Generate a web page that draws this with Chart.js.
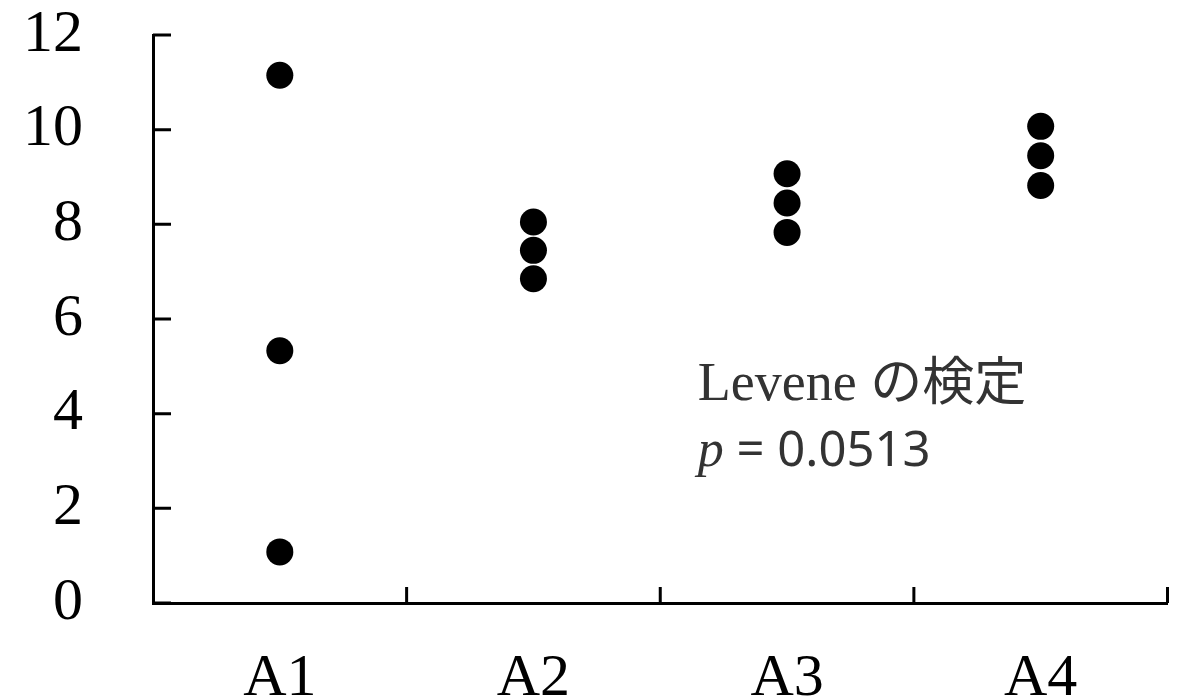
<!DOCTYPE html>
<html lang="ja">
<head>
  <meta charset="UTF-8">
  <title>Levene の検定</title>
  <script src="https://cdn.jsdelivr.net/npm/chart.js"></script>
  <style>
    body {
      margin: 0;
      padding: 0;
      background-color: #fff;
    }
    #chart-container {
      width: 1181px;
      height: 699px;
    }
  </style>
</head>
<body>
  <div id="chart-container">
    <canvas id="dotChart" width="1181" height="699"></canvas>
  </div>

  <script>
    // groups and their measured values
    const groups = ['A1', 'A2', 'A3', 'A4'];
    const valuesA1 = [11.15, 5.33, 1.08];
    const valuesA2 = [8.05, 7.45, 6.85];
    const valuesA3 = [9.07, 8.45, 7.83];
    const valuesA4 = [10.07, 9.45, 8.82];
    const yTicks = [0, 2, 4, 6, 8, 10, 12];

    const testLabel = 'Levene';
    const testLabelJa = 'の検定';
    const pValue = '0.0513';

    const allValues = [valuesA1, valuesA2, valuesA3, valuesA4];
    const points = [];
    groups.forEach((g, i) => {
      allValues[i].forEach(v => points.push({ x: g, y: v }));
    });

    const serif = '"Liberation Serif", "DejaVu Serif", serif';

    // inward tick marks on both axes
    const innerTicks = {
      id: 'innerTicks',
      afterDraw(chart) {
        const c = chart.ctx;
        const xs = chart.scales.x;
        const ys = chart.scales.y;
        c.save();
        c.strokeStyle = '#000';
        c.lineWidth = 3;
        c.beginPath();
        yTicks.forEach(t => {
          const py = ys.getPixelForValue(t);
          c.moveTo(xs.left, py);
          c.lineTo(xs.left + 18, py);
        });
        const step = xs.getPixelForValue(1) - xs.getPixelForValue(0);
        for (let i = 1; i <= groups.length; i++) {
          const px = xs.getPixelForValue(i) - step / 2;
          c.moveTo(px, ys.bottom);
          c.lineTo(px, ys.bottom - 16);
        }
        c.stroke();
        c.restore();
      }
    };

    // test result written inside the plot
    const testNote = {
      id: 'testNote',
      afterDraw(chart) {
        const c = chart.ctx;
        const xs = chart.scales.x;
        const ys = chart.scales.y;
        const x0 = xs.getPixelForValue(1.648);
        const y1 = ys.getPixelForValue(4.29);
        const y2 = ys.getPixelForValue(2.89);
        c.save();
        c.fillStyle = '#333';
        c.textBaseline = 'alphabetic';
        c.textAlign = 'left';

        c.font = '54px ' + serif;
        c.fillText(testLabel, x0, y1);
        let x = x0 + c.measureText(testLabel + ' ').width;
        c.font = '52px "Noto Sans CJK JP"';
        c.fillText(testLabelJa, x, y1);

        c.font = 'italic 52px ' + serif;
        c.fillText('p', x0, y2);
        x = x0 + c.measureText('p').width;
        c.font = '49px "Noto Sans", "Open Sans", sans-serif';
        c.fillText(' = ' + pValue, x, y2);
        c.restore();
      }
    };

    const ctx = document.getElementById('dotChart').getContext('2d');
    const dotChart = new Chart(ctx, {
      type: 'line',
      data: {
        labels: groups,
        datasets: [{
          data: points,
          showLine: false,
          pointRadius: 13.5,
          pointHoverRadius: 13.5,
          pointBackgroundColor: '#000',
          pointBorderWidth: 0
        }]
      },
      options: {
        responsive: false,
        animation: false,
        layout: {
          padding: { top: 35, right: 13, left: 0, bottom: 0 }
        },
        plugins: {
          legend: { display: false },
          tooltip: { enabled: false }
        },
        scales: {
          x: {
            type: 'category',
            offset: true,
            grid: { display: false, drawTicks: false },
            border: { display: true, color: '#000', width: 3 },
            ticks: {
              color: '#000',
              font: { family: serif, size: 60 },
              padding: 40
            },
            afterFit(scale) {
              scale.height = 96;
              scale.paddingLeft = 0;
              scale.paddingRight = 0;
            }
          },
          y: {
            min: 0,
            max: 12,
            grid: { display: false, drawTicks: false },
            border: { display: true, color: '#000', width: 3 },
            afterBuildTicks(scale) {
              scale.ticks = yTicks.map(v => ({ value: v }));
            },
            ticks: {
              color: '#000',
              font: { family: serif, size: 60 },
              padding: 70
            },
            afterFit(scale) {
              scale.width = 153;
              scale.paddingTop = 0;
              scale.paddingBottom = 0;
            }
          }
        }
      },
      plugins: [innerTicks, testNote]
    });
  </script>
</body>
</html>
